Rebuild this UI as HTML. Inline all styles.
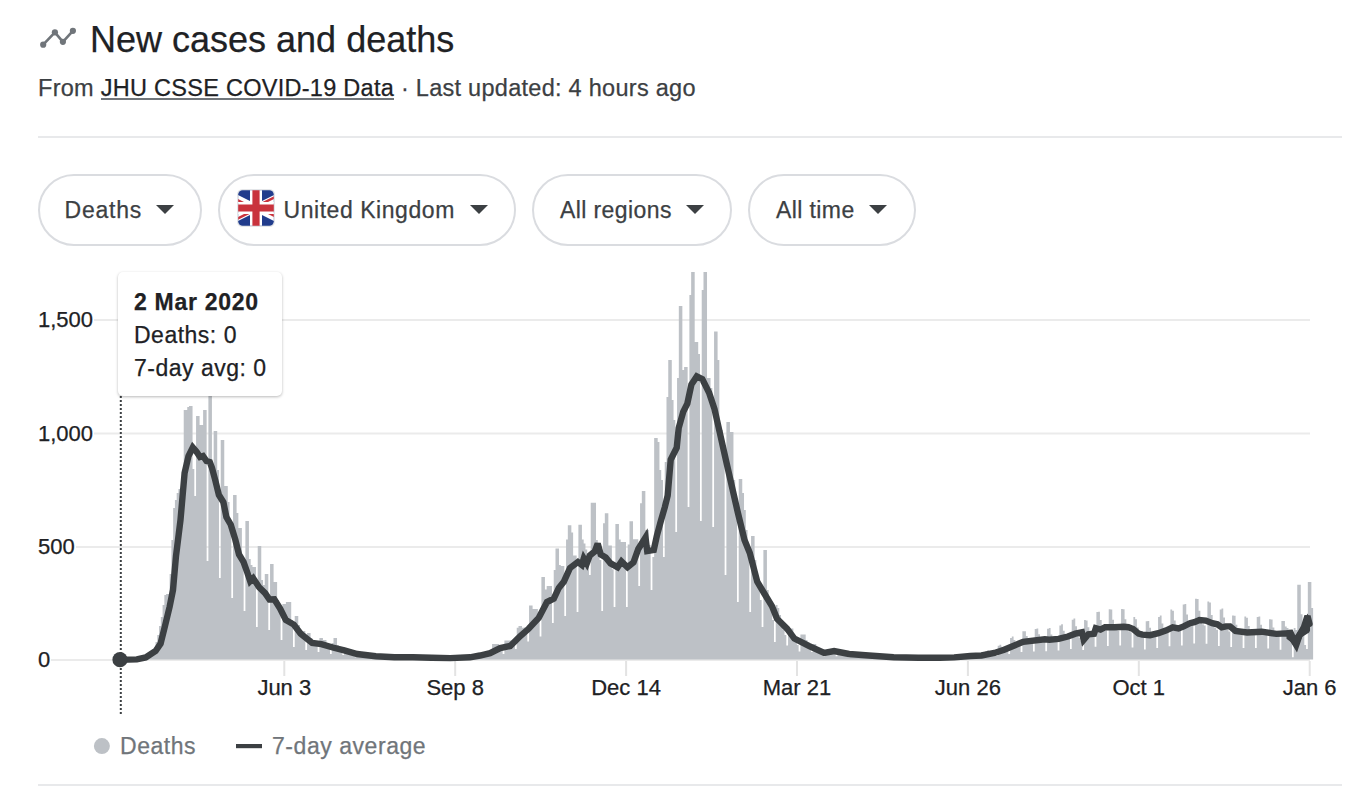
<!DOCTYPE html>
<html><head><meta charset="utf-8">
<style>
html,body{margin:0;padding:0;background:#fff;}
body{width:1366px;height:806px;position:relative;overflow:hidden;font-family:"Liberation Sans",sans-serif;-webkit-text-stroke:0.25px currentColor;}
.abs{position:absolute;white-space:nowrap;}
#title{left:90px;top:17.5px;font-size:36px;color:#202124;line-height:44px;}
#sub{left:38px;top:72.5px;font-size:23.5px;color:#3c4043;line-height:30px;letter-spacing:0.275px;}
#sub u{color:#202124;text-decoration:none;}
.hr{position:absolute;left:38px;width:1304px;height:2px;background:#e8e9eb;}
.btn{position:absolute;top:173.5px;height:68px;border:2px solid #dadce0;border-radius:36px;box-sizing:content-box;}
.btn span{position:absolute;top:20.5px;font-size:23px;line-height:28px;color:#3c4043;letter-spacing:0.4px;}
.tri{position:absolute;top:29px;width:0;height:0;border-left:9px solid transparent;border-right:9px solid transparent;border-top:9px solid #3c4043;}
.yl{position:absolute;left:38px;font-size:22px;line-height:24px;color:#202124;background:#fff;padding-right:1px;}
.xl{position:absolute;top:676px;font-size:22px;line-height:24px;color:#202124;transform:translateX(-50%);}
#tip{position:absolute;left:118px;top:272px;width:164px;height:124px;background:#fff;border-radius:5px;box-shadow:0 1px 3px rgba(0,0,0,0.28);}
#tip div{position:absolute;left:16px;font-size:23px;line-height:28px;color:#202124;letter-spacing:0.5px;}
.leg{position:absolute;top:732px;font-size:23px;line-height:28px;color:#70757a;letter-spacing:0.55px;}
</style></head><body>
<svg class="abs" style="left:0;top:0" width="1366" height="806" viewBox="0 0 1366 806">
  <g fill="#ebebeb">
    <rect x="38" y="319" width="1272" height="2"/>
    <rect x="38" y="432.5" width="1272" height="2"/>
    <rect x="38" y="546" width="1272" height="2"/>
    <rect x="38" y="659" width="1272" height="2"/>
  </g>
  <g fill="#e3e3e3">
    <rect x="283.3" y="661" width="2" height="15"/>
    <rect x="454.2" y="661" width="2" height="15"/>
    <rect x="625.1" y="661" width="2" height="15"/>
    <rect x="796" y="661" width="2" height="15"/>
    <rect x="966.9" y="661" width="2" height="15"/>
    <rect x="1137.8" y="661" width="2" height="15"/>
    <rect x="1308.7" y="661" width="2" height="15"/>
  </g>
  <path fill="#bdc1c6" d="M134.40 659.6V658.5h1.77V659.6zM136.16 659.6V658.1h1.77V659.6zM137.92 659.6V657.9h1.77V659.6zM139.68 659.6V657.6h1.77V659.6zM141.44 659.6V656.7h1.77V659.6zM143.20 659.6V656.0h1.77V659.6zM144.97 659.6V657.4h1.77V659.6zM146.73 659.6V657.0h1.77V659.6zM148.49 659.6V656.0h1.77V659.6zM150.25 659.6V655.0h1.77V659.6zM152.01 659.6V652.0h1.77V659.6zM153.78 659.6V648.0h1.77V659.6zM155.54 659.6V642.0h1.77V659.6zM157.30 659.6V635.0h1.77V659.6zM159.06 659.6V626.0h1.77V659.6zM160.82 659.6V617.0h1.77V659.6zM162.59 659.6V605.0h1.77V659.6zM164.35 659.6V595.0h1.77V659.6zM166.11 659.6V594.0h1.77V659.6zM167.87 659.6V594.0h1.77V659.6zM169.63 659.6V574.0h1.77V659.6zM171.40 659.6V540.0h1.77V659.6zM173.16 659.6V508.0h1.77V659.6zM174.92 659.6V500.0h1.77V659.6zM176.68 659.6V493.0h1.77V659.6zM178.44 659.6V489.0h1.77V659.6zM180.20 659.6V489.0h1.77V659.6zM181.97 659.6V470.0h1.77V659.6zM183.73 659.6V410.0h1.77V659.6zM185.49 659.6V410.0h1.77V659.6zM187.25 659.6V407.0h1.77V659.6zM189.01 659.6V406.0h1.77V659.6zM190.78 659.6V406.0h1.77V659.6zM192.54 659.6V469.0h1.77V659.6zM194.30 659.6V496.0h1.77V659.6zM196.06 659.6V416.0h1.77V659.6zM197.82 659.6V416.0h1.77V659.6zM199.59 659.6V425.0h1.77V659.6zM201.35 659.6V425.0h1.77V659.6zM203.11 659.6V410.0h1.77V659.6zM204.87 659.6V410.0h1.77V659.6zM206.63 659.6V561.0h1.77V659.6zM208.39 659.6V396.0h1.77V659.6zM210.16 659.6V396.0h1.77V659.6zM211.92 659.6V480.0h1.77V659.6zM213.68 659.6V431.0h1.77V659.6zM215.44 659.6V431.0h1.77V659.6zM217.20 659.6V470.0h1.77V659.6zM218.97 659.6V578.0h1.77V659.6zM220.73 659.6V440.0h1.77V659.6zM222.49 659.6V440.0h1.77V659.6zM224.25 659.6V486.0h1.77V659.6zM226.01 659.6V486.0h1.77V659.6zM227.78 659.6V502.0h1.77V659.6zM229.54 659.6V520.0h1.77V659.6zM231.30 659.6V598.0h1.77V659.6zM233.06 659.6V495.0h1.77V659.6zM234.82 659.6V495.0h1.77V659.6zM236.59 659.6V513.0h1.77V659.6zM238.35 659.6V528.0h1.77V659.6zM240.11 659.6V528.0h1.77V659.6zM241.87 659.6V560.0h1.77V659.6zM243.63 659.6V611.0h1.77V659.6zM245.39 659.6V521.0h1.77V659.6zM247.16 659.6V521.0h1.77V659.6zM248.92 659.6V559.0h1.77V659.6zM250.68 659.6V565.0h1.77V659.6zM252.44 659.6V567.0h1.77V659.6zM254.20 659.6V567.0h1.77V659.6zM255.97 659.6V627.0h1.77V659.6zM257.73 659.6V546.0h1.77V659.6zM259.49 659.6V546.0h1.77V659.6zM261.25 659.6V580.0h1.77V659.6zM263.01 659.6V585.0h1.77V659.6zM264.78 659.6V574.0h1.77V659.6zM266.54 659.6V574.0h1.77V659.6zM268.30 659.6V630.0h1.77V659.6zM270.06 659.6V564.0h1.77V659.6zM271.82 659.6V564.0h1.77V659.6zM273.59 659.6V582.0h1.77V659.6zM275.35 659.6V582.0h1.77V659.6zM277.11 659.6V600.0h1.77V659.6zM278.87 659.6V605.0h1.77V659.6zM280.63 659.6V640.0h1.77V659.6zM282.39 659.6V604.0h1.77V659.6zM284.16 659.6V604.0h1.77V659.6zM285.92 659.6V602.0h1.77V659.6zM287.68 659.6V602.0h1.77V659.6zM289.44 659.6V602.0h1.77V659.6zM291.20 659.6V620.0h1.77V659.6zM292.97 659.6V647.0h1.77V659.6zM294.73 659.6V616.0h1.77V659.6zM296.49 659.6V616.0h1.77V659.6zM298.25 659.6V625.0h1.77V659.6zM300.01 659.6V630.0h1.77V659.6zM301.78 659.6V631.0h1.77V659.6zM303.54 659.6V631.0h1.77V659.6zM305.30 659.6V650.0h1.77V659.6zM307.06 659.6V633.0h1.77V659.6zM308.82 659.6V633.0h1.77V659.6zM310.59 659.6V638.0h1.77V659.6zM312.35 659.6V640.0h1.77V659.6zM314.11 659.6V642.0h1.77V659.6zM315.87 659.6V645.0h1.77V659.6zM317.63 659.6V652.0h1.77V659.6zM319.39 659.6V638.0h1.77V659.6zM321.16 659.6V638.0h1.77V659.6zM322.92 659.6V640.0h1.77V659.6zM324.68 659.6V640.0h1.77V659.6zM326.44 659.6V645.0h1.77V659.6zM328.20 659.6V648.0h1.77V659.6zM329.97 659.6V654.0h1.77V659.6zM331.73 659.6V643.0h1.77V659.6zM333.49 659.6V638.0h1.77V659.6zM335.25 659.6V638.0h1.77V659.6zM337.01 659.6V645.0h1.77V659.6zM338.78 659.6V648.0h1.77V659.6zM340.54 659.6V650.0h1.77V659.6zM342.30 659.6V655.0h1.77V659.6zM344.06 659.6V649.9h1.77V659.6zM345.82 659.6V650.7h1.77V659.6zM347.59 659.6V652.5h1.77V659.6zM349.35 659.6V653.4h1.77V659.6zM351.11 659.6V654.1h1.77V659.6zM352.87 659.6V655.2h1.77V659.6zM354.63 659.6V657.3h1.77V659.6zM356.39 659.6V653.4h1.77V659.6zM358.16 659.6V653.3h1.77V659.6zM359.92 659.6V654.4h1.77V659.6zM361.68 659.6V655.2h1.77V659.6zM363.44 659.6V655.5h1.77V659.6zM365.20 659.6V656.3h1.77V659.6zM366.97 659.6V657.9h1.77V659.6zM368.73 659.6V655.1h1.77V659.6zM370.49 659.6V655.2h1.77V659.6zM372.25 659.6V655.8h1.77V659.6zM374.01 659.6V656.3h1.77V659.6zM375.78 659.6V656.5h1.77V659.6zM377.54 659.6V657.2h1.77V659.6zM379.30 659.6V658.4h1.77V659.6zM381.06 659.6V656.0h1.77V659.6zM382.82 659.6V656.3h1.77V659.6zM384.59 659.6V656.6h1.77V659.6zM386.35 659.6V657.0h1.77V659.6zM388.11 659.6V657.3h1.77V659.6zM389.87 659.6V657.4h1.77V659.6zM391.63 659.6V658.5h1.77V659.6zM393.39 659.6V656.6h1.77V659.6zM395.16 659.6V656.6h1.77V659.6zM396.92 659.6V657.1h1.77V659.6zM398.68 659.6V657.1h1.77V659.6zM400.44 659.6V657.1h1.77V659.6zM402.20 659.6V657.5h1.77V659.6zM403.97 659.6V658.5h1.77V659.6zM405.73 659.6V656.6h1.77V659.6zM407.49 659.6V656.6h1.77V659.6zM409.25 659.6V657.1h1.77V659.6zM411.01 659.6V657.1h1.77V659.6zM412.78 659.6V657.3h1.77V659.6zM414.54 659.6V657.7h1.77V659.6zM416.30 659.6V658.6h1.77V659.6zM418.06 659.6V656.9h1.77V659.6zM419.82 659.6V656.9h1.77V659.6zM421.58 659.6V657.2h1.77V659.6zM423.35 659.6V657.4h1.77V659.6zM425.11 659.6V657.6h1.77V659.6zM426.87 659.6V657.9h1.77V659.6zM428.63 659.6V658.7h1.77V659.6zM430.39 659.6V657.3h1.77V659.6zM432.16 659.6V657.4h1.77V659.6zM433.92 659.6V657.7h1.77V659.6zM435.68 659.6V657.9h1.77V659.6zM437.44 659.6V658.0h1.77V659.6zM439.20 659.6V658.3h1.77V659.6zM440.97 659.6V658.9h1.77V659.6zM442.73 659.6V657.5h1.77V659.6zM444.49 659.6V657.6h1.77V659.6zM446.25 659.6V657.9h1.77V659.6zM448.01 659.6V657.8h1.77V659.6zM449.78 659.6V657.8h1.77V659.6zM451.54 659.6V658.0h1.77V659.6zM453.30 659.6V658.8h1.77V659.6zM455.06 659.6V657.2h1.77V659.6zM456.82 659.6V657.2h1.77V659.6zM458.58 659.6V657.4h1.77V659.6zM460.35 659.6V657.4h1.77V659.6zM462.11 659.6V657.4h1.77V659.6zM463.87 659.6V657.6h1.77V659.6zM465.63 659.6V658.4h1.77V659.6zM467.39 659.6V655.9h1.77V659.6zM469.16 659.6V655.6h1.77V659.6zM470.92 659.6V655.7h1.77V659.6zM472.68 659.6V655.8h1.77V659.6zM474.44 659.6V655.4h1.77V659.6zM476.20 659.6V655.6h1.77V659.6zM477.97 659.6V657.3h1.77V659.6zM479.73 659.6V652.4h1.77V659.6zM481.49 659.6V652.4h1.77V659.6zM483.25 659.6V653.1h1.77V659.6zM485.01 659.6V652.3h1.77V659.6zM486.78 659.6V652.2h1.77V659.6zM488.54 659.6V652.2h1.77V659.6zM490.30 659.6V655.2h1.77V659.6zM492.06 659.6V644.0h1.77V659.6zM493.82 659.6V644.0h1.77V659.6zM495.58 659.6V644.0h1.77V659.6zM497.35 659.6V644.0h1.77V659.6zM499.11 659.6V647.7h1.77V659.6zM500.87 659.6V649.2h1.77V659.6zM502.63 659.6V653.9h1.77V659.6zM504.39 659.6V640.5h1.77V659.6zM506.16 659.6V640.5h1.77V659.6zM507.92 659.6V640.5h1.77V659.6zM509.68 659.6V640.5h1.77V659.6zM511.44 659.6V640.5h1.77V659.6zM513.20 659.6V640.5h1.77V659.6zM514.97 659.6V649.1h1.77V659.6zM516.73 659.6V627.7h1.77V659.6zM518.49 659.6V626.0h1.77V659.6zM520.25 659.6V626.0h1.77V659.6zM522.01 659.6V627.7h1.77V659.6zM523.78 659.6V627.5h1.77V659.6zM525.54 659.6V631.1h1.77V659.6zM527.30 659.6V641.4h1.77V659.6zM529.06 659.6V605.4h1.77V659.6zM530.82 659.6V605.4h1.77V659.6zM532.58 659.6V609.0h1.77V659.6zM534.35 659.6V609.0h1.77V659.6zM536.11 659.6V609.0h1.77V659.6zM537.87 659.6V617.7h1.77V659.6zM539.63 659.6V636.4h1.77V659.6zM541.39 659.6V577.0h1.77V659.6zM543.16 659.6V577.0h1.77V659.6zM544.92 659.6V589.5h1.77V659.6zM546.68 659.6V586.0h1.77V659.6zM548.44 659.6V586.0h1.77V659.6zM550.20 659.6V586.0h1.77V659.6zM551.97 659.6V623.0h1.77V659.6zM553.73 659.6V570.0h1.77V659.6zM555.49 659.6V548.4h1.77V659.6zM557.25 659.6V548.4h1.77V659.6zM559.01 659.6V565.0h1.77V659.6zM560.77 659.6V566.0h1.77V659.6zM562.54 659.6V566.0h1.77V659.6zM564.30 659.6V616.0h1.77V659.6zM566.06 659.6V539.6h1.77V659.6zM567.82 659.6V525.3h1.77V659.6zM569.58 659.6V525.3h1.77V659.6zM571.35 659.6V532.6h1.77V659.6zM573.11 659.6V555.4h1.77V659.6zM574.87 659.6V555.4h1.77V659.6zM576.63 659.6V612.0h1.77V659.6zM578.39 659.6V524.7h1.77V659.6zM580.16 659.6V524.7h1.77V659.6zM581.92 659.6V539.6h1.77V659.6zM583.68 659.6V543.5h1.77V659.6zM585.44 659.6V549.5h1.77V659.6zM587.20 659.6V561.0h1.77V659.6zM588.97 659.6V575.0h1.77V659.6zM590.73 659.6V502.8h1.77V659.6zM592.49 659.6V502.8h1.77V659.6zM594.25 659.6V502.8h1.77V659.6zM596.01 659.6V540.0h1.77V659.6zM597.77 659.6V545.0h1.77V659.6zM599.54 659.6V560.0h1.77V659.6zM601.30 659.6V611.0h1.77V659.6zM603.06 659.6V523.3h1.77V659.6zM604.82 659.6V513.3h1.77V659.6zM606.58 659.6V513.3h1.77V659.6zM608.35 659.6V545.5h1.77V659.6zM610.11 659.6V545.5h1.77V659.6zM611.87 659.6V569.3h1.77V659.6zM613.63 659.6V607.0h1.77V659.6zM615.39 659.6V524.0h1.77V659.6zM617.16 659.6V524.0h1.77V659.6zM618.92 659.6V539.6h1.77V659.6zM620.68 659.6V542.0h1.77V659.6zM622.44 659.6V542.0h1.77V659.6zM624.20 659.6V542.0h1.77V659.6zM625.97 659.6V607.0h1.77V659.6zM627.73 659.6V544.5h1.77V659.6zM629.49 659.6V521.3h1.77V659.6zM631.25 659.6V521.3h1.77V659.6zM633.01 659.6V539.2h1.77V659.6zM634.77 659.6V539.2h1.77V659.6zM636.54 659.6V539.2h1.77V659.6zM638.30 659.6V586.0h1.77V659.6zM640.06 659.6V503.3h1.77V659.6zM641.82 659.6V491.0h1.77V659.6zM643.58 659.6V491.0h1.77V659.6zM645.35 659.6V530.0h1.77V659.6zM647.11 659.6V530.0h1.77V659.6zM648.87 659.6V545.0h1.77V659.6zM650.63 659.6V590.0h1.77V659.6zM652.39 659.6V557.0h1.77V659.6zM654.16 659.6V438.0h1.77V659.6zM655.92 659.6V438.0h1.77V659.6zM657.68 659.6V442.0h1.77V659.6zM659.44 659.6V470.0h1.77V659.6zM661.20 659.6V480.0h1.77V659.6zM662.97 659.6V557.0h1.77V659.6zM664.73 659.6V462.0h1.77V659.6zM666.49 659.6V397.0h1.77V659.6zM668.25 659.6V360.0h1.77V659.6zM670.01 659.6V360.0h1.77V659.6zM671.77 659.6V400.0h1.77V659.6zM673.54 659.6V420.0h1.77V659.6zM675.30 659.6V532.0h1.77V659.6zM677.06 659.6V378.0h1.77V659.6zM678.82 659.6V306.0h1.77V659.6zM680.58 659.6V306.0h1.77V659.6zM682.35 659.6V370.0h1.77V659.6zM684.11 659.6V367.0h1.77V659.6zM685.87 659.6V367.0h1.77V659.6zM687.63 659.6V507.0h1.77V659.6zM689.39 659.6V295.0h1.77V659.6zM691.16 659.6V272.0h1.77V659.6zM692.92 659.6V272.0h1.77V659.6zM694.68 659.6V342.0h1.77V659.6zM696.44 659.6V342.0h1.77V659.6zM698.20 659.6V354.0h1.77V659.6zM699.97 659.6V521.0h1.77V659.6zM701.73 659.6V290.0h1.77V659.6zM703.49 659.6V272.0h1.77V659.6zM705.25 659.6V272.0h1.77V659.6zM707.01 659.6V378.0h1.77V659.6zM708.77 659.6V378.0h1.77V659.6zM710.54 659.6V388.0h1.77V659.6zM712.30 659.6V527.0h1.77V659.6zM714.06 659.6V331.5h1.77V659.6zM715.82 659.6V331.5h1.77V659.6zM717.58 659.6V360.0h1.77V659.6zM719.35 659.6V430.0h1.77V659.6zM721.11 659.6V430.0h1.77V659.6zM722.87 659.6V450.0h1.77V659.6zM724.63 659.6V575.0h1.77V659.6zM726.39 659.6V422.0h1.77V659.6zM728.16 659.6V422.0h1.77V659.6zM729.92 659.6V432.0h1.77V659.6zM731.68 659.6V432.0h1.77V659.6zM733.44 659.6V480.0h1.77V659.6zM735.20 659.6V500.0h1.77V659.6zM736.96 659.6V602.0h1.77V659.6zM738.73 659.6V479.0h1.77V659.6zM740.49 659.6V479.0h1.77V659.6zM742.25 659.6V493.0h1.77V659.6zM744.01 659.6V510.0h1.77V659.6zM745.77 659.6V530.0h1.77V659.6zM747.54 659.6V545.0h1.77V659.6zM749.30 659.6V612.0h1.77V659.6zM751.06 659.6V536.0h1.77V659.6zM752.82 659.6V536.0h1.77V659.6zM754.58 659.6V560.0h1.77V659.6zM756.35 659.6V575.0h1.77V659.6zM758.11 659.6V585.0h1.77V659.6zM759.87 659.6V600.0h1.77V659.6zM761.63 659.6V627.0h1.77V659.6zM763.39 659.6V550.0h1.77V659.6zM765.16 659.6V550.0h1.77V659.6zM766.92 659.6V590.0h1.77V659.6zM768.68 659.6V600.0h1.77V659.6zM770.44 659.6V610.0h1.77V659.6zM772.20 659.6V620.0h1.77V659.6zM773.96 659.6V642.0h1.77V659.6zM775.73 659.6V605.0h1.77V659.6zM777.49 659.6V608.0h1.77V659.6zM779.25 659.6V615.0h1.77V659.6zM781.01 659.6V625.0h1.77V659.6zM782.77 659.6V630.0h1.77V659.6zM784.54 659.6V635.0h1.77V659.6zM786.30 659.6V645.5h1.77V659.6zM788.06 659.6V628.6h1.77V659.6zM789.82 659.6V628.6h1.77V659.6zM791.58 659.6V628.6h1.77V659.6zM793.35 659.6V635.0h1.77V659.6zM795.11 659.6V640.0h1.77V659.6zM796.87 659.6V645.0h1.77V659.6zM798.63 659.6V651.6h1.77V659.6zM800.39 659.6V634.6h1.77V659.6zM802.16 659.6V634.6h1.77V659.6zM803.92 659.6V634.6h1.77V659.6zM805.68 659.6V640.0h1.77V659.6zM807.44 659.6V645.0h1.77V659.6zM809.20 659.6V648.0h1.77V659.6zM810.96 659.6V652.0h1.77V659.6zM812.73 659.6V644.0h1.77V659.6zM814.49 659.6V644.0h1.77V659.6zM816.25 659.6V651.0h1.77V659.6zM818.01 659.6V652.4h1.77V659.6zM819.77 659.6V652.9h1.77V659.6zM821.54 659.6V653.8h1.77V659.6zM823.30 659.6V656.4h1.77V659.6zM825.06 659.6V649.9h1.77V659.6zM826.82 659.6V649.0h1.77V659.6zM828.58 659.6V650.4h1.77V659.6zM830.35 659.6V651.3h1.77V659.6zM832.11 659.6V652.1h1.77V659.6zM833.87 659.6V652.9h1.77V659.6zM835.63 659.6V656.2h1.77V659.6zM837.39 659.6V650.5h1.77V659.6zM839.16 659.6V651.7h1.77V659.6zM840.92 659.6V653.1h1.77V659.6zM842.68 659.6V653.7h1.77V659.6zM844.44 659.6V654.1h1.77V659.6zM846.20 659.6V655.2h1.77V659.6zM847.96 659.6V657.2h1.77V659.6zM849.73 659.6V653.1h1.77V659.6zM851.49 659.6V653.0h1.77V659.6zM853.25 659.6V653.9h1.77V659.6zM855.01 659.6V654.6h1.77V659.6zM856.77 659.6V655.1h1.77V659.6zM858.54 659.6V655.6h1.77V659.6zM860.30 659.6V657.7h1.77V659.6zM862.06 659.6V652.9h1.77V659.6zM863.82 659.6V653.2h1.77V659.6zM865.58 659.6V654.6h1.77V659.6zM867.35 659.6V655.9h1.77V659.6zM869.11 659.6V656.1h1.77V659.6zM870.87 659.6V656.3h1.77V659.6zM872.63 659.6V658.1h1.77V659.6zM874.39 659.6V654.3h1.77V659.6zM876.16 659.6V654.5h1.77V659.6zM877.92 659.6V655.7h1.77V659.6zM879.68 659.6V656.7h1.77V659.6zM881.44 659.6V656.9h1.77V659.6zM883.20 659.6V657.1h1.77V659.6zM884.96 659.6V658.5h1.77V659.6zM886.73 659.6V655.6h1.77V659.6zM888.49 659.6V655.7h1.77V659.6zM890.25 659.6V656.6h1.77V659.6zM892.01 659.6V657.3h1.77V659.6zM893.77 659.6V657.5h1.77V659.6zM895.54 659.6V657.5h1.77V659.6zM897.30 659.6V658.6h1.77V659.6zM899.06 659.6V656.2h1.77V659.6zM900.82 659.6V656.2h1.77V659.6zM902.58 659.6V656.9h1.77V659.6zM904.35 659.6V657.6h1.77V659.6zM906.11 659.6V657.7h1.77V659.6zM907.87 659.6V657.8h1.77V659.6zM909.63 659.6V658.8h1.77V659.6zM911.39 659.6V656.5h1.77V659.6zM913.15 659.6V656.6h1.77V659.6zM914.92 659.6V657.2h1.77V659.6zM916.68 659.6V657.8h1.77V659.6zM918.44 659.6V657.8h1.77V659.6zM920.20 659.6V657.9h1.77V659.6zM921.96 659.6V658.8h1.77V659.6zM923.73 659.6V656.6h1.77V659.6zM925.49 659.6V656.6h1.77V659.6zM927.25 659.6V657.2h1.77V659.6zM929.01 659.6V657.8h1.77V659.6zM930.77 659.6V657.8h1.77V659.6zM932.54 659.6V657.9h1.77V659.6zM934.30 659.6V658.8h1.77V659.6zM936.06 659.6V656.6h1.77V659.6zM937.82 659.6V656.6h1.77V659.6zM939.58 659.6V657.2h1.77V659.6zM941.35 659.6V657.7h1.77V659.6zM943.11 659.6V657.7h1.77V659.6zM944.87 659.6V657.7h1.77V659.6zM946.63 659.6V658.7h1.77V659.6zM948.39 659.6V656.2h1.77V659.6zM950.15 659.6V656.2h1.77V659.6zM951.92 659.6V656.7h1.77V659.6zM953.68 659.6V657.2h1.77V659.6zM955.44 659.6V657.2h1.77V659.6zM957.20 659.6V657.1h1.77V659.6zM958.96 659.6V658.3h1.77V659.6zM960.73 659.6V654.7h1.77V659.6zM962.49 659.6V654.5h1.77V659.6zM964.25 659.6V655.3h1.77V659.6zM966.01 659.6V656.2h1.77V659.6zM967.77 659.6V656.3h1.77V659.6zM969.54 659.6V656.2h1.77V659.6zM971.30 659.6V658.0h1.77V659.6zM973.06 659.6V653.6h1.77V659.6zM974.82 659.6V653.4h1.77V659.6zM976.58 659.6V654.5h1.77V659.6zM978.35 659.6V655.6h1.77V659.6zM980.11 659.6V655.3h1.77V659.6zM981.87 659.6V655.1h1.77V659.6zM983.63 659.6V657.4h1.77V659.6zM985.39 659.6V650.9h1.77V659.6zM987.15 659.6V650.3h1.77V659.6zM988.92 659.6V651.7h1.77V659.6zM990.68 659.6V653.2h1.77V659.6zM992.44 659.6V652.9h1.77V659.6zM994.20 659.6V652.5h1.77V659.6zM995.96 659.6V656.1h1.77V659.6zM997.73 659.6V645.8h1.77V659.6zM999.49 659.6V644.8h1.77V659.6zM1001.25 659.6V646.7h1.77V659.6zM1003.01 659.6V649.2h1.77V659.6zM1004.77 659.6V648.8h1.77V659.6zM1006.54 659.6V648.6h1.77V659.6zM1008.30 659.6V654.1h1.77V659.6zM1010.06 659.6V638.0h1.77V659.6zM1011.82 659.6V636.5h1.77V659.6zM1013.58 659.6V640.1h1.77V659.6zM1015.35 659.6V644.1h1.77V659.6zM1017.11 659.6V644.1h1.77V659.6zM1018.87 659.6V643.7h1.77V659.6zM1020.63 659.6V652.1h1.77V659.6zM1022.39 659.6V631.3h1.77V659.6zM1024.15 659.6V631.3h1.77V659.6zM1025.92 659.6V636.0h1.77V659.6zM1027.68 659.6V641.9h1.77V659.6zM1029.44 659.6V641.8h1.77V659.6zM1031.20 659.6V642.1h1.77V659.6zM1032.96 659.6V651.6h1.77V659.6zM1034.73 659.6V629.1h1.77V659.6zM1036.49 659.6V628.4h1.77V659.6zM1038.25 659.6V634.2h1.77V659.6zM1040.01 659.6V640.4h1.77V659.6zM1041.77 659.6V641.2h1.77V659.6zM1043.54 659.6V641.8h1.77V659.6zM1045.30 659.6V651.2h1.77V659.6zM1047.06 659.6V628.8h1.77V659.6zM1048.82 659.6V628.1h1.77V659.6zM1050.58 659.6V634.5h1.77V659.6zM1052.35 659.6V640.1h1.77V659.6zM1054.11 659.6V640.3h1.77V659.6zM1055.87 659.6V640.9h1.77V659.6zM1057.63 659.6V650.5h1.77V659.6zM1059.39 659.6V625.4h1.77V659.6zM1061.15 659.6V624.2h1.77V659.6zM1062.92 659.6V630.8h1.77V659.6zM1064.68 659.6V637.6h1.77V659.6zM1066.44 659.6V637.2h1.77V659.6zM1068.20 659.6V637.4h1.77V659.6zM1069.96 659.6V649.1h1.77V659.6zM1071.73 659.6V619.8h1.77V659.6zM1073.49 659.6V618.5h1.77V659.6zM1075.25 659.6V626.2h1.77V659.6zM1077.01 659.6V634.0h1.77V659.6zM1078.77 659.6V638.1h1.77V659.6zM1080.54 659.6V641.0h1.77V659.6zM1082.30 659.6V650.0h1.77V659.6zM1084.06 659.6V620.1h1.77V659.6zM1085.82 659.6V620.5h1.77V659.6zM1087.58 659.6V627.2h1.77V659.6zM1089.35 659.6V634.8h1.77V659.6zM1091.11 659.6V633.0h1.77V659.6zM1092.87 659.6V631.2h1.77V659.6zM1094.63 659.6V646.7h1.77V659.6zM1096.39 659.6V612.1h1.77V659.6zM1098.15 659.6V611.8h1.77V659.6zM1099.92 659.6V620.1h1.77V659.6zM1101.68 659.6V628.9h1.77V659.6zM1103.44 659.6V629.3h1.77V659.6zM1105.20 659.6V630.3h1.77V659.6zM1106.96 659.6V646.1h1.77V659.6zM1108.73 659.6V609.2h1.77V659.6zM1110.49 659.6V609.5h1.77V659.6zM1112.25 659.6V619.7h1.77V659.6zM1114.01 659.6V629.1h1.77V659.6zM1115.77 659.6V629.2h1.77V659.6zM1117.54 659.6V630.4h1.77V659.6zM1119.30 659.6V645.6h1.77V659.6zM1121.06 659.6V609.1h1.77V659.6zM1122.82 659.6V609.3h1.77V659.6zM1124.58 659.6V619.2h1.77V659.6zM1126.34 659.6V629.9h1.77V659.6zM1128.11 659.6V631.3h1.77V659.6zM1129.87 659.6V632.3h1.77V659.6zM1131.63 659.6V647.5h1.77V659.6zM1133.39 659.6V617.1h1.77V659.6zM1135.15 659.6V619.2h1.77V659.6zM1136.92 659.6V627.5h1.77V659.6zM1138.68 659.6V635.6h1.77V659.6zM1140.44 659.6V636.8h1.77V659.6zM1142.20 659.6V637.2h1.77V659.6zM1143.96 659.6V649.5h1.77V659.6zM1145.73 659.6V621.2h1.77V659.6zM1147.49 659.6V621.1h1.77V659.6zM1149.25 659.6V627.8h1.77V659.6zM1151.01 659.6V635.2h1.77V659.6zM1152.77 659.6V635.9h1.77V659.6zM1154.54 659.6V636.2h1.77V659.6zM1156.30 659.6V648.1h1.77V659.6zM1158.06 659.6V617.0h1.77V659.6zM1159.82 659.6V615.5h1.77V659.6zM1161.58 659.6V623.6h1.77V659.6zM1163.34 659.6V631.6h1.77V659.6zM1165.11 659.6V631.3h1.77V659.6zM1166.87 659.6V630.9h1.77V659.6zM1168.63 659.6V646.2h1.77V659.6zM1170.39 659.6V609.6h1.77V659.6zM1172.15 659.6V610.7h1.77V659.6zM1173.92 659.6V620.5h1.77V659.6zM1175.68 659.6V629.7h1.77V659.6zM1177.44 659.6V630.3h1.77V659.6zM1179.20 659.6V630.3h1.77V659.6zM1180.96 659.6V645.5h1.77V659.6zM1182.73 659.6V604.6h1.77V659.6zM1184.49 659.6V604.0h1.77V659.6zM1186.25 659.6V614.5h1.77V659.6zM1188.01 659.6V624.0h1.77V659.6zM1189.77 659.6V624.6h1.77V659.6zM1191.54 659.6V625.5h1.77V659.6zM1193.30 659.6V643.6h1.77V659.6zM1195.06 659.6V598.8h1.77V659.6zM1196.82 659.6V598.9h1.77V659.6zM1198.58 659.6V610.7h1.77V659.6zM1200.34 659.6V623.0h1.77V659.6zM1202.11 659.6V624.2h1.77V659.6zM1203.87 659.6V625.6h1.77V659.6zM1205.63 659.6V643.8h1.77V659.6zM1207.39 659.6V601.5h1.77V659.6zM1209.15 659.6V602.6h1.77V659.6zM1210.92 659.6V615.0h1.77V659.6zM1212.68 659.6V626.0h1.77V659.6zM1214.44 659.6V627.8h1.77V659.6zM1216.20 659.6V629.8h1.77V659.6zM1217.96 659.6V646.1h1.77V659.6zM1219.73 659.6V609.4h1.77V659.6zM1221.49 659.6V608.4h1.77V659.6zM1223.25 659.6V617.4h1.77V659.6zM1225.01 659.6V628.5h1.77V659.6zM1226.77 659.6V629.7h1.77V659.6zM1228.54 659.6V631.5h1.77V659.6zM1230.30 659.6V647.0h1.77V659.6zM1232.06 659.6V615.6h1.77V659.6zM1233.82 659.6V615.8h1.77V659.6zM1235.58 659.6V624.8h1.77V659.6zM1237.34 659.6V633.2h1.77V659.6zM1239.11 659.6V634.2h1.77V659.6zM1240.87 659.6V634.5h1.77V659.6zM1242.63 659.6V648.0h1.77V659.6zM1244.39 659.6V616.6h1.77V659.6zM1246.15 659.6V617.8h1.77V659.6zM1247.92 659.6V626.0h1.77V659.6zM1249.68 659.6V633.3h1.77V659.6zM1251.44 659.6V633.9h1.77V659.6zM1253.20 659.6V634.7h1.77V659.6zM1254.96 659.6V647.9h1.77V659.6zM1256.73 659.6V616.9h1.77V659.6zM1258.49 659.6V616.4h1.77V659.6zM1260.25 659.6V624.7h1.77V659.6zM1262.01 659.6V633.4h1.77V659.6zM1263.77 659.6V634.4h1.77V659.6zM1265.54 659.6V635.1h1.77V659.6zM1267.30 659.6V648.6h1.77V659.6zM1269.06 659.6V619.3h1.77V659.6zM1270.82 659.6V619.6h1.77V659.6zM1272.58 659.6V627.4h1.77V659.6zM1274.34 659.6V634.9h1.77V659.6zM1276.11 659.6V635.4h1.77V659.6zM1277.87 659.6V636.0h1.77V659.6zM1279.63 659.6V649.8h1.77V659.6zM1281.39 659.6V621.0h1.77V659.6zM1283.15 659.6V621.0h1.77V659.6zM1284.92 659.6V626.6h1.77V659.6zM1286.68 659.6V628.0h1.77V659.6zM1288.44 659.6V632.0h1.77V659.6zM1290.20 659.6V640.0h1.77V659.6zM1291.96 659.6V657.3h1.77V659.6zM1293.73 659.6V628.0h1.77V659.6zM1295.49 659.6V630.0h1.77V659.6zM1297.25 659.6V584.7h1.77V659.6zM1299.01 659.6V584.7h1.77V659.6zM1300.77 659.6V614.3h1.77V659.6zM1302.53 659.6V635.0h1.77V659.6zM1304.30 659.6V645.0h1.77V659.6zM1306.06 659.6V649.0h1.77V659.6zM1307.82 659.6V582.0h1.77V659.6zM1309.58 659.6V582.0h1.77V659.6zM1311.34 659.6V607.9h1.77V659.6z"/>
  <line x1="120.8" y1="396" x2="120.8" y2="716" stroke="#3c4043" stroke-width="2" stroke-dasharray="2 2"/>
  <path fill="none" stroke="#3c4043" stroke-width="6.4" stroke-linejoin="miter" stroke-miterlimit="3" stroke-linecap="round" d="M119.9 659.9 L136.8 659.4 L145.7 657.5 L155.6 651.0 L160.6 643.6 L164.8 626.7 L169.6 606.9 L173.0 590.0 L176.0 556.0 L178.7 534.4 L180.5 520.0 L182.5 497.0 L184.6 473.0 L188.5 456.0 L192.8 447.5 L196.7 452.0 L200.0 457.0 L203.0 456.0 L206.5 461.0 L209.8 462.0 L212.0 468.0 L215.2 480.0 L218.9 495.0 L223.4 502.3 L226.4 517.2 L230.8 524.7 L235.3 539.6 L239.0 554.4 L243.5 561.9 L247.2 572.3 L250.2 581.2 L253.2 578.3 L259.1 587.2 L265.1 593.1 L269.5 599.5 L274.3 599.3 L280.1 608.5 L285.8 620.0 L293.8 624.6 L300.7 633.7 L312.2 642.9 L321.4 644.1 L332.8 647.5 L344.3 650.3 L357.2 654.0 L375.8 656.2 L394.4 657.2 L413.0 657.2 L431.7 657.7 L450.3 658.1 L470.0 657.3 L480.0 655.5 L490.1 653.1 L500.2 648.1 L510.2 646.0 L520.3 636.0 L528.6 628.8 L538.7 618.0 L547.0 602.0 L553.8 598.7 L558.8 588.0 L563.8 581.9 L570.0 568.0 L577.9 562.0 L581.8 565.0 L583.8 558.4 L586.8 563.4 L589.8 555.4 L594.7 551.5 L597.7 543.5 L600.7 554.4 L605.7 557.4 L610.6 563.4 L617.6 567.3 L621.5 561.4 L627.5 567.3 L633.5 562.4 L638.3 549.0 L645.5 537.5 L647.2 551.0 L653.8 550.0 L656.8 536.0 L660.8 521.2 L664.8 507.3 L667.7 495.4 L670.7 459.7 L676.7 447.8 L678.7 428.0 L683.2 411.8 L687.3 403.6 L691.4 384.5 L696.8 376.4 L702.3 379.1 L709.1 392.7 L714.5 409.1 L720.0 433.6 L725.5 458.2 L732.3 488.2 L737.7 512.0 L744.5 540.0 L749.8 553.0 L757.2 581.6 L764.6 594.0 L772.1 606.4 L777.0 618.8 L787.0 628.7 L794.4 638.6 L809.3 646.1 L824.2 653.0 L834.1 651.0 L849.0 654.0 L868.8 655.5 L893.6 657.2 L918.4 657.7 L940.0 657.7 L954.2 657.4 L970.3 656.0 L981.5 655.5 L994.4 653.0 L1004.2 649.8 L1023.1 641.8 L1044.8 639.3 L1049.3 639.8 L1058.6 638.9 L1067.9 636.5 L1075.4 633.7 L1081.9 632.3 L1083.7 639.8 L1088.4 634.2 L1094.0 633.7 L1095.8 628.2 L1100.5 629.6 L1105.1 627.2 L1114.5 627.2 L1123.8 626.8 L1128.4 627.2 L1133.1 629.1 L1138.6 633.7 L1142.4 634.7 L1150.0 635.2 L1158.4 633.2 L1165.8 630.6 L1172.7 627.4 L1178.5 628.5 L1183.7 626.4 L1190.0 623.2 L1194.3 622.1 L1199.5 620.0 L1205.8 620.6 L1212.2 623.2 L1217.4 624.3 L1221.7 627.4 L1225.9 626.4 L1230.0 626.4 L1235.4 631.0 L1247.1 632.5 L1261.8 631.7 L1276.4 633.9 L1288.1 633.2 L1292.0 638.0 L1296.2 645.0 L1300.0 634.0 L1304.0 627.0 L1307.5 616.0 L1309.5 624.0"/>
  <circle cx="120" cy="659.7" r="7.6" fill="#3c4043"/>
  <polygon fill="#3c4043" points="1286.5,630.8 1288.7,629.8 1292.6,629.5 1295.2,635.2 1298.7,630.8 1303.9,623.9 1305.6,618.7 1307.3,613.5 1310,617.8 1310,630.8 1309.1,632.6 1302.1,636.9 1299.5,642.1 1296.5,649.1 1290.8,642.1 1286.5,638.7"/>
</svg>
<div class="yl" style="top:308px">1,500</div>
<div class="yl" style="top:422px">1,000</div>
<div class="yl" style="top:535px">500</div>
<div class="yl" style="top:648px">0</div>
<div class="xl" style="left:284.3px">Jun 3</div>
<div class="xl" style="left:455.2px">Sep 8</div>
<div class="xl" style="left:626.1px">Dec 14</div>
<div class="xl" style="left:797px">Mar 21</div>
<div class="xl" style="left:967.9px">Jun 26</div>
<div class="xl" style="left:1138.8px">Oct 1</div>
<div class="xl" style="left:1309.7px">Jan 6</div>

<svg class="abs" style="left:0;top:0" width="120" height="70" viewBox="0 0 120 70">
  <polyline points="43.2,44.7 54.9,32.3 62.9,41.8 72.9,30.8" fill="none" stroke="#70757a" stroke-width="2.6" stroke-linejoin="round"/>
  <g fill="#70757a"><circle cx="43.2" cy="44.7" r="3.1"/><circle cx="54.9" cy="32.3" r="3.1"/><circle cx="62.9" cy="41.8" r="3.1"/><circle cx="72.9" cy="30.8" r="3.1"/></g>
</svg>
<div id="title" class="abs">New cases and deaths</div>
<div id="sub" class="abs">From <u>JHU CSSE COVID-19 Data</u> · Last updated: 4 hours ago</div>
<div class="hr" style="top:136px"></div>
<div style="position:absolute;left:101px;top:98px;width:293px;height:2px;background:#70757a"></div>

<div class="btn" style="left:38px;width:160px"><span style="left:24.5px;letter-spacing:0.8px">Deaths</span><i class="tri" style="left:116px"></i></div>
<div class="btn" style="left:218px;width:294px">
  <svg style="position:absolute;left:17px;top:13.5px" width="38" height="38" viewBox="0 0 38 38">
    <defs><clipPath id="fc"><rect x="1.2" y="1.2" width="35.6" height="35.6" rx="4.5"/></clipPath>
    <clipPath id="ft"><path d="M30,15 h30 v15 z v15 h-30 z h-30 v-15 z v-15 h30 z"/></clipPath></defs>
    <rect x="0" y="0" width="38" height="38" rx="5.5" fill="#e3e5e8"/>
    <g clip-path="url(#fc)">
    <svg x="1" y="1" width="36" height="36" viewBox="15 0 30 30" preserveAspectRatio="none">
      <rect x="0" y="0" width="60" height="30" fill="#213c8c"/>
      <path d="M0,0 L60,30 M60,0 L0,30" stroke="#fff" stroke-width="6"/>
      <path d="M0,0 L60,30 M60,0 L0,30" clip-path="url(#ft)" stroke="#c9333d" stroke-width="4"/>
      <path d="M30,0 v30 M0,15 h60" stroke="#fff" stroke-width="10"/>
      <path d="M30,0 v30 M0,15 h60" stroke="#c9333d" stroke-width="6"/>
    </svg>
    </g>
  </svg>
  <span style="left:63.5px;letter-spacing:0.55px">United Kingdom</span><i class="tri" style="left:250px"></i></div>
<div class="btn" style="left:532px;width:196px"><span style="left:26px">All regions</span><i class="tri" style="left:152px"></i></div>
<div class="btn" style="left:748px;width:164px"><span style="left:26px">All time</span><i class="tri" style="left:119px"></i></div>

<div id="tip">
  <div style="top:16px;font-weight:bold;letter-spacing:0.7px">2 Mar 2020</div>
  <div style="top:49px">Deaths: 0</div>
  <div style="top:82px">7-day avg: 0</div>
</div>

<svg class="abs" style="left:0;top:700px" width="300" height="60" viewBox="0 700 300 60">
  <circle cx="101.9" cy="746.1" r="8" fill="#bdc1c6"/>
  <rect x="236" y="744" width="26" height="4.2" fill="#3c4043"/>
</svg>
<div class="leg" style="left:120px">Deaths</div>
<div class="leg" style="left:272px">7-day average</div>
<div class="hr" style="top:784px"></div>
</body></html>
